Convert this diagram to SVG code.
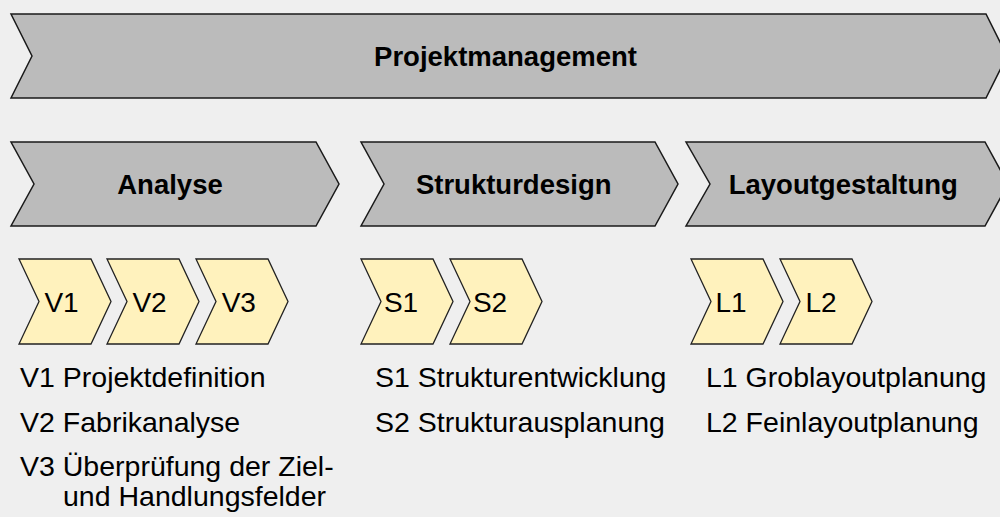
<svg xmlns="http://www.w3.org/2000/svg" width="1000" height="517" viewBox="0 0 1000 517">
<style>
.big{fill:#bbbbbb;stroke:#1a1a1a;stroke-width:1.5;stroke-linejoin:miter}
.small{fill:#fff2bd;stroke:#222;stroke-width:1.3}
.hd{font-family:"Liberation Sans",Arial,sans-serif;font-weight:bold;font-size:27.5px;fill:#000;text-anchor:middle}
.lb{font-family:"Liberation Sans",Arial,sans-serif;font-size:28px;fill:#000;text-anchor:middle}
.ls{font-family:"Liberation Sans",Arial,sans-serif;font-size:28.5px;fill:#000}
</style>
<rect width="1000" height="517" fill="#efefef"/>
<g id="connectors"/>
<g id="projektmanagement">
<path class="big" d="M11,14 L986,14 L1007,56 L986,98 L11,98 L32,56 Z"/>
<text class="hd" x="505.5" y="66">Projektmanagement</text>
</g>
<g id="analyse">
<path class="big" d="M11,142 L316,142 L339,184 L316,226 L11,226 L34,184 Z"/>
<text class="hd" x="170" y="193.5">Analyse</text>
</g>
<g id="strukturdesign">
<path class="big" d="M361,142 L655,142 L678,184 L655,226 L361,226 L384,184 Z"/>
<text class="hd" x="513.7" y="193.5">Strukturdesign</text>
</g>
<g id="layoutgestaltung">
<path class="big" d="M686,142 L985,142 L1008,184 L985,226 L686,226 L710,184 Z"/>
<text class="hd" x="843.3" y="193.5">Layoutgestaltung</text>
</g>
<g id="v1">
<path class="small" d="M19,259 L91,259 L111,301.5 L91,344 L19,344 L39,301.5 Z"/>
<text class="lb" x="61.5" y="311.5">V1</text>
</g>
<g id="v2">
<path class="small" d="M107,259 L179,259 L199,301.5 L179,344 L107,344 L127,301.5 Z"/>
<text class="lb" x="149.5" y="311.5">V2</text>
</g>
<g id="v3">
<path class="small" d="M196,259 L268,259 L288,301.5 L268,344 L196,344 L216,301.5 Z"/>
<text class="lb" x="238.8" y="311.5">V3</text>
</g>
<g id="s1">
<path class="small" d="M361,259 L433,259 L453,301.5 L433,344 L361,344 L381,301.5 Z"/>
<text class="lb" x="401" y="311.5">S1</text>
</g>
<g id="s2">
<path class="small" d="M450,259 L522,259 L542,301.5 L522,344 L450,344 L470,301.5 Z"/>
<text class="lb" x="490" y="311.5">S2</text>
</g>
<g id="l1">
<path class="small" d="M691,259 L763,259 L783,301.5 L763,344 L691,344 L711,301.5 Z"/>
<text class="lb" x="731" y="311.5">L1</text>
</g>
<g id="l2">
<path class="small" d="M780,259 L852,259 L872,301.5 L852,344 L780,344 L800,301.5 Z"/>
<text class="lb" x="821" y="311.5">L2</text>
</g>
<g id="legend-v">
<text class="ls" x="20" y="387">V1 Projektdefinition</text>
<text class="ls" x="20" y="431.5">V2 Fabrikanalyse</text>
<text class="ls" x="20" y="475.5">V3 Überprüfung der Ziel-</text>
<text class="ls" x="63" y="506">und Handlungsfelder</text>
</g>
<g id="legend-s">
<text class="ls" x="375" y="387">S1 Strukturentwicklung</text>
<text class="ls" x="375" y="431.5">S2 Strukturausplanung</text>
</g>
<g id="legend-l">
<text class="ls" x="706" y="387">L1 Groblayoutplanung</text>
<text class="ls" x="706" y="431.5">L2 Feinlayoutplanung</text>
</g>
</svg>
